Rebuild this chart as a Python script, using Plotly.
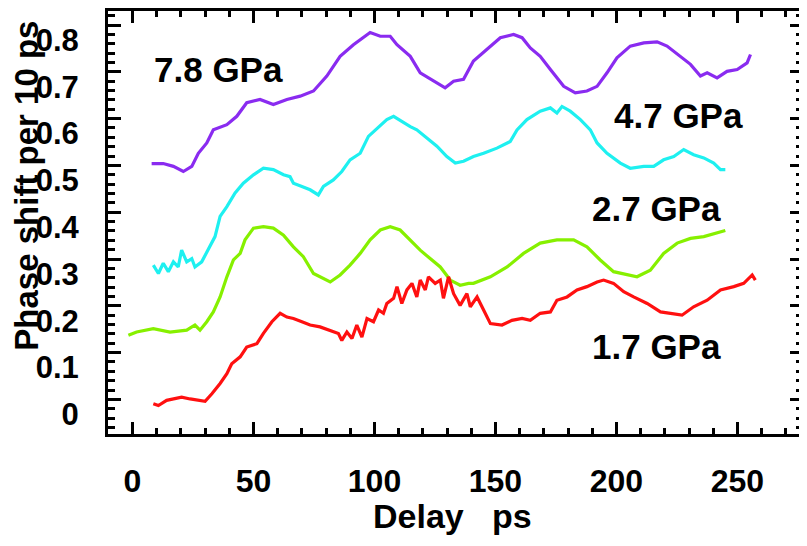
import plotly.graph_objects as go

# ---------------- data ----------------
x_78 = [7.9, 12.7, 16.9, 21.0, 24.5, 27.2, 30.7, 33.4, 39.0, 43.1, 47.2, 52.7, 58.2, 63.8,
        69.3, 74.8, 80.3, 85.8, 91.3, 98.2, 102.4, 106.5, 109.3, 114.8, 118.9, 124.4,
        129.2, 132.7, 136.8, 140.9, 146.5, 152.0, 157.5, 161.0, 164.4, 168.5, 172.7,
        178.2, 183.0, 187.8, 192.0, 196.1, 200.2, 205.7, 211.3, 216.8, 220.9, 226.4,
        230.6, 234.7, 237.5, 241.6, 245.7, 249.9, 254.0, 255.4]
y_78 = [0.504, 0.504, 0.498, 0.487, 0.498, 0.526, 0.548, 0.576, 0.587, 0.605, 0.634, 0.641,
        0.630, 0.641, 0.648, 0.659, 0.691, 0.733, 0.758, 0.784, 0.776, 0.776, 0.758, 0.733,
        0.698, 0.680, 0.666, 0.680, 0.684, 0.723, 0.748, 0.773, 0.780, 0.773, 0.751, 0.733,
        0.705, 0.669, 0.655, 0.659, 0.669, 0.698, 0.730, 0.755, 0.762, 0.764, 0.755, 0.733,
        0.716, 0.691, 0.698, 0.687, 0.701, 0.705, 0.719, 0.737]

x_47 = [8.6, 10.7, 12.7, 14.8, 16.9, 18.9, 20.3, 22.4, 24.5, 25.8, 28.6, 31.3, 34.1, 36.2,
        39.0, 42.4, 45.8, 50.0, 54.1, 58.2, 62.4, 65.1, 66.5, 70.0, 73.4, 76.8, 78.9, 83.0,
        86.5, 89.9, 94.1, 97.5, 101.7, 105.1, 107.9, 111.3, 114.8, 117.5, 121.7, 125.8,
        129.9, 133.4, 136.8, 140.9, 145.1, 150.6, 156.1, 158.9, 163.0, 168.5, 172.7, 175.4,
        177.5, 180.9, 185.1, 189.2, 192.0, 196.1, 201.6, 205.7, 211.3, 215.4, 219.5, 223.7,
        227.8, 231.9, 236.1, 240.2, 243.0, 245.0]
y_47 = [0.287, 0.269, 0.291, 0.273, 0.294, 0.283, 0.319, 0.294, 0.301, 0.283, 0.294, 0.319,
        0.348, 0.391, 0.412, 0.441, 0.462, 0.480, 0.494, 0.491, 0.480, 0.476, 0.462, 0.455,
        0.448, 0.437, 0.455, 0.469, 0.487, 0.512, 0.526, 0.562, 0.583, 0.598, 0.605, 0.594,
        0.583, 0.576, 0.559, 0.541, 0.519, 0.505, 0.509, 0.519, 0.526, 0.537, 0.551, 0.576,
        0.598, 0.616, 0.623, 0.612, 0.626, 0.616, 0.598, 0.576, 0.548, 0.526, 0.505, 0.494,
        0.498, 0.498, 0.512, 0.519, 0.534, 0.523, 0.516, 0.505, 0.491, 0.491]

x_27 = [-1.7, 1.7, 8.6, 15.5, 22.4, 25.8, 27.9, 30.7, 33.4, 36.2, 39.0, 41.7, 44.5, 46.5,
        50.0, 54.1, 58.2, 62.4, 66.5, 70.6, 74.8, 78.9, 81.7, 85.8, 89.9, 94.1, 98.2, 102.4,
        106.5, 110.6, 114.8, 118.9, 123.0, 127.2, 131.3, 135.4, 138.9, 140.9, 147.9, 154.8,
        161.6, 168.5, 175.4, 182.3, 187.8, 193.3, 198.8, 204.4, 208.5, 214.0, 219.5, 225.1,
        230.6, 236.1, 241.6, 245.0]
y_27 = [0.137, 0.144, 0.151, 0.144, 0.148, 0.159, 0.148, 0.166, 0.187, 0.219, 0.262, 0.298,
        0.312, 0.341, 0.366, 0.369, 0.366, 0.351, 0.326, 0.305, 0.269, 0.259, 0.251, 0.266,
        0.287, 0.312, 0.341, 0.362, 0.369, 0.362, 0.341, 0.319, 0.301, 0.283, 0.255, 0.244,
        0.248, 0.248, 0.262, 0.283, 0.312, 0.334, 0.341, 0.341, 0.326, 0.298, 0.273, 0.266,
        0.262, 0.276, 0.312, 0.334, 0.344, 0.348, 0.355, 0.361]

x_17 = [8.6, 10.7, 14.1, 16.9, 20.3, 23.8, 27.2, 30.0, 32.8, 36.2, 39.0, 41.0, 44.5, 47.2,
        51.4, 54.1, 57.6, 61.0, 63.8, 66.5, 70.0, 73.4, 77.5, 81.7, 85.1, 86.5, 88.6, 90.7,
        92.7, 94.8, 96.9, 99.6, 101.7, 103.7, 105.1, 107.9, 109.3, 111.3, 113.4, 115.5,
        117.5, 118.9, 121.0, 122.3, 125.1, 127.2, 128.5, 130.6, 132.7, 135.4, 138.2, 139.6,
        142.4, 145.1, 147.9, 152.7, 156.8, 161.0, 164.4, 168.5, 172.7, 175.4, 179.6, 183.7,
        187.8, 192.0, 194.7, 198.8, 203.0, 207.1, 212.7, 218.2, 222.3, 227.1, 231.9, 237.5,
        243.0, 248.5, 252.6, 256.1, 257.4]
y_17 = [-0.009, -0.013, -0.002, 0.001, 0.005, 0.001, -0.002, -0.004, 0.012, 0.034, 0.055,
        0.076, 0.091, 0.112, 0.119, 0.141, 0.166, 0.184, 0.176, 0.173, 0.166, 0.159, 0.155,
        0.148, 0.141, 0.126, 0.144, 0.130, 0.159, 0.133, 0.173, 0.166, 0.191, 0.184, 0.205,
        0.216, 0.241, 0.205, 0.234, 0.248, 0.219, 0.255, 0.234, 0.262, 0.248, 0.255, 0.216,
        0.262, 0.226, 0.201, 0.226, 0.198, 0.219, 0.191, 0.162, 0.159, 0.169, 0.173, 0.169,
        0.184, 0.187, 0.212, 0.219, 0.234, 0.241, 0.251, 0.255, 0.248, 0.230, 0.219, 0.205,
        0.187, 0.184, 0.180, 0.198, 0.212, 0.234, 0.241, 0.248, 0.266, 0.255]

series_names = ["7.8 GPa", "4.7 GPa", "2.7 GPa", "1.7 GPa"]
label_x = [8.1, 198.2, 189.2, 189.2]
label_y = [0.705, 0.607, 0.409, 0.114]

x_tickvals = [0, 50, 100, 150, 200, 250]
y_tickvals = [0, 0.1, 0.2, 0.3, 0.4, 0.5, 0.6, 0.7, 0.8]
y_ticktext = ["0", "0.1", "0.2", "0.3", "0.4", "0.5", "0.6", "0.7", "0.8"]

x_title = "Delay   ps"
y_title = "Phase shift per 10 ps"

# ---------------- styling ----------------
colors = ["#8A2BF0", "#1EF0F0", "#86F000", "#FF1010"]
FONT = "Liberation Sans, Arial, Helvetica, sans-serif"
# the page body adds an 8 px offset; figure size/margins compensate for it
X_RANGE = [-10.13, 277.1]
Y_RANGE = [-0.0739, 0.830]

fig = go.Figure()
for xs, ys, c, n in zip([x_78, x_47, x_27, x_17], [y_78, y_47, y_27, y_17], colors, series_names):
    fig.add_trace(go.Scatter(x=xs, y=ys, mode="lines", name=n,
                             line=dict(color=c, width=3.2)))

for n, lx, ly in zip(series_names, label_x, label_y):
    fig.add_annotation(x=lx, y=ly, text=n, showarrow=False, xanchor="left", yanchor="middle",
                       font=dict(family=FONT, size=35, color="black", weight="bold"))

axis_common = dict(showline=True, linewidth=3, linecolor="black", mirror="ticks",
                   ticks="inside", tickwidth=2.5, tickcolor="black",
                   showgrid=False, zeroline=False, automargin=False)

fig.update_layout(
    width=799, height=538,
    margin=dict(l=100, r=4, t=3, b=112),
    paper_bgcolor="white", plot_bgcolor="white",
    showlegend=False,
    xaxis=dict(range=X_RANGE, tickvals=x_tickvals, ticklen=12,
               minor=dict(dtick=10, ticklen=6, tickwidth=2.5, ticks="inside", tickcolor="black"),
               tickfont=dict(family=FONT, size=32, color="black", weight="bold"),
               ticklabelstandoff=17, **axis_common),
    yaxis=dict(range=Y_RANGE, tickvals=y_tickvals, ticktext=y_ticktext, ticklen=13,
               minor=dict(dtick=0.02, ticklen=7, tickwidth=2.5, ticks="inside", tickcolor="black"),
               tickfont=dict(family=FONT, size=31, color="black", weight="bold"),
               ticklabelstandoff=20, ticklabelshift=15, **axis_common),
)

fig.add_annotation(xref="paper", yref="paper", x=-0.1174, y=0.588, text=y_title, textangle=-90,
                   showarrow=False, xanchor="center", yanchor="middle",
                   font=dict(family=FONT, size=33, color="black", weight="bold"))
fig.add_annotation(xref="paper", yref="paper", x=0.495, y=-0.195, text=x_title,
                   showarrow=False, xanchor="center", yanchor="middle",
                   font=dict(family=FONT, size=34, color="black", weight="bold"))

fig.write_html("out.html")
